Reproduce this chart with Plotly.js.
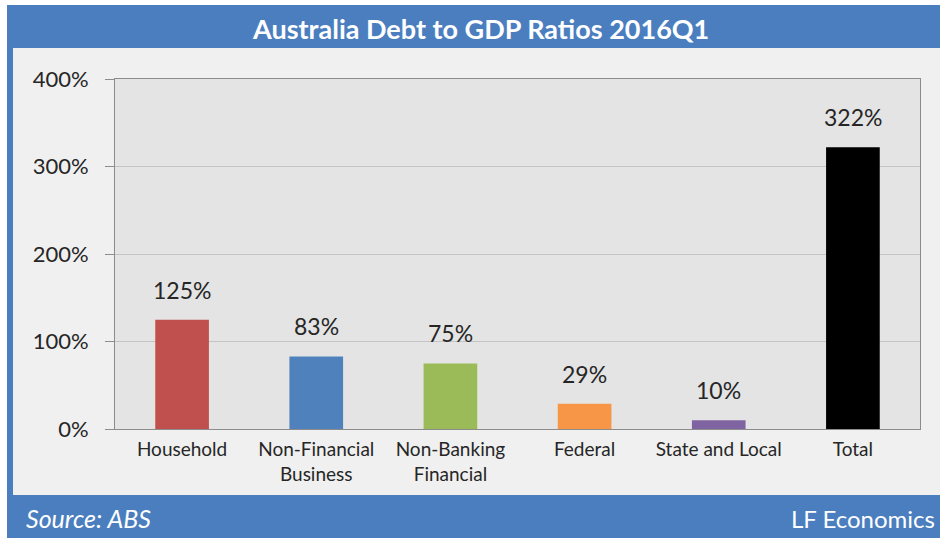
<!DOCTYPE html>
<html>
<head>
<meta charset="utf-8">
<script src="https://cdn.plot.ly/plotly-3.0.1.min.js"></script>
<style>html,body{margin:0;padding:0;background:#fff;}#chart{width:940px;height:538px;}</style>
</head>
<body>
<div id="chart"></div>
<script>
const categories = ["Household", "Non-Financial<br>Business", "Non-Banking<br>Financial", "Federal", "State and Local", "Total"];
const values = [125, 83, 75, 29, 10, 322];
const labels = ["125%", "83%", "75%", "29%", "10%", "322%"];
const barColors = ["#c0504d", "#4f81bd", "#9bbb59", "#f79646", "#8064a2", "#000000"];
const titleText = "Australia Debt to GDP Ratios 2016Q1";
const sourceText = "Source: ABS";
const creditText = "LF Economics";

const W = 940, H = 538;
const M = {l: 115, r: 20, t: 79, b: 109};
const pw = W - M.l - M.r, ph = H - M.t - M.b;
const px = x => (x - M.l) / pw;
const py = y => (H - M.b - y) / ph;

const FONT = "Lato, 'Open Sans', sans-serif";

const shapes = [
  {type: "rect", xref: "paper", yref: "paper", x0: px(7), x1: px(940), y0: py(538), y1: py(5), fillcolor: "#4a7ebf", line: {width: 0}, layer: "below"},
  {type: "rect", xref: "paper", yref: "paper", x0: px(13), x1: px(940), y0: py(495), y1: py(48), fillcolor: "#f0f0f0", line: {width: 0}, layer: "below"},
  {type: "rect", xref: "paper", yref: "paper", x0: 0, x1: 1, y0: 0, y1: 1, fillcolor: "#e4e4e4", line: {width: 0}, layer: "below"}
];

const annotations = categories.map((c, i) => ({
  x: c, y: values[i], xref: "x", yref: "y", text: labels[i], showarrow: false,
  yanchor: "bottom", yshift: 14, font: {family: FONT, size: 23, color: "#262626"}
}));
annotations.push(
  {xref: "paper", yref: "paper", x: px(480), y: py(28), text: "<b>" + titleText + "</b>", showarrow: false,
   xanchor: "center", yanchor: "middle", font: {family: FONT, size: 27, color: "#ffffff"}},
  {xref: "paper", yref: "paper", x: px(24), y: py(518), text: "<i>" + sourceText + "</i>", showarrow: false,
   xanchor: "left", yanchor: "middle", font: {family: FONT, size: 25, color: "#ffffff"}},
  {xref: "paper", yref: "paper", x: px(937), y: py(518), text: creditText, showarrow: false,
   xanchor: "right", yanchor: "middle", font: {family: FONT, size: 24, color: "#ffffff"}}
);

const trace = {
  type: "bar", x: categories, y: values,
  marker: {color: barColors, line: {width: 0}},
  hoverinfo: "skip"
};

const layout = {
  width: W, height: H,
  margin: M,
  paper_bgcolor: "#ffffff",
  plot_bgcolor: "rgba(0,0,0,0)",
  showlegend: false,
  bargap: 0.6,
  font: {family: FONT, color: "#262626"},
  xaxis: {
    type: "category", showgrid: false, showline: true, linecolor: "#8c8c8c", linewidth: 1,
    mirror: true, ticks: "", tickfont: {family: FONT, size: 19, color: "#262626"},
    ticklabelstandoff: 3, fixedrange: true
  },
  yaxis: {
    range: [0, 400], dtick: 100, ticksuffix: "%", showgrid: true, gridcolor: "#c4c4c4", gridwidth: 1,
    showline: true, linecolor: "#8c8c8c", linewidth: 1, mirror: true,
    ticks: "outside", ticklen: 9, tickcolor: "#8c8c8c", zeroline: false,
    tickfont: {family: FONT, size: 22, color: "#262626"}, ticklabelstandoff: 12, fixedrange: true
  },
  shapes: shapes,
  annotations: annotations
};

Plotly.newPlot("chart", [trace], layout, {displayModeBar: false, staticPlot: true});
</script>
</body>
</html>
